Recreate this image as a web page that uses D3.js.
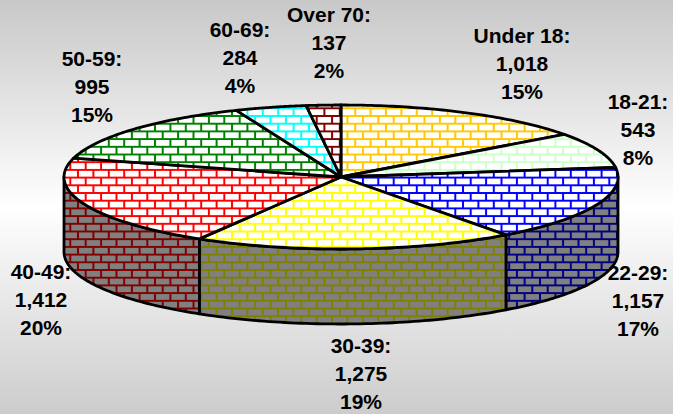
<!DOCTYPE html>
<html>
<head>
<meta charset="utf-8">
<script src="https://cdn.jsdelivr.net/npm/d3@7"></script>
<style>
html, body { margin: 0; padding: 0; background: #fff; }
text { font-family: "Liberation Sans", Arial, sans-serif; font-weight: bold; font-size: 21px; fill: #000; }
</style>
</head>
<body>
<div id="chart"></div>
<script>
let categories = ["Under 18", "18-21", "22-29", "30-39", "40-49", "50-59", "60-69", "Over 70"];
let values = [1018, 543, 1157, 1275, 1412, 995, 284, 137];
let valueLabels = ["1,018", "543", "1,157", "1,275", "1,412", "995", "284", "137"];
let percentLabels = ["15%", "8%", "17%", "19%", "20%", "15%", "4%", "2%"];
let topColors = ["#ffc800", "#ccffcc", "#0000ff", "#ffff00", "#ff0000", "#008000", "#00ffff", "#800000"];
let sideColors = ["#806400", "#668066", "#000080", "#808000", "#800000", "#004000", "#008080", "#400000"];
// label anchor x, first line baseline y
let labelPos = [[522, 43], [638, 109], [638, 280], [361, 353], [41, 279], [92, 66], [240, 37], [329, 22]];

const width = 673, height = 414;
const cx = 341, cy = 177, rx = 277, ry = 72, depth = 75;

let svg = d3.select("#chart").append("svg").attr("width", width).attr("height", height);
let defs = svg.append("defs");

// Background
let bg = defs.append("linearGradient").attr("id", "bg").attr("x1", 0).attr("x2", 0).attr("y1", 0).attr("y2", 1);
bg.append("stop").attr("offset", "0%").attr("stop-color", "#c8c8c8");
bg.append("stop").attr("offset", "50%").attr("stop-color", "#ffffff");
bg.append("stop").attr("offset", "100%").attr("stop-color", "#cccccc");
svg.append("rect").attr("width", width).attr("height", height).attr("fill", "url(#bg)");

// Brick pattern
function brick(id, color, back) {
    let s = 15.4;
    let p = defs.append("pattern").attr("id", id).attr("patternUnits", "userSpaceOnUse")
        .attr("x", 343.65).attr("y", 112.15).attr("width", s).attr("height", s);
    p.append("rect").attr("width", s).attr("height", s).attr("fill", back);
    p.append("path")
        .attr("d", `M0,${s/4}H${s}M0,${3*s/4}H${s}M${s/4},${s/4}V${3*s/4}M${3*s/4},${3*s/4}V${s}M${3*s/4},0V${s/4}`)
        .attr("fill", "none").attr("stroke", color).attr("stroke-width", 2);
}
topColors.forEach((c, i) => brick("top" + i, c, "#fff"));
sideColors.forEach((c, i) => brick("side" + i, c, "#808080"));

let pie = d3.pie().sort(null).startAngle(0).endAngle(2 * Math.PI);
let arcs = pie(values);

let px = a => cx + rx * Math.sin(a);
let py = a => cy - ry * Math.cos(a);

// elliptical outer edge, sampled so it follows the pie angles
function rimPoints(a0, a1, dy) {
    let pts = [], n = 60;
    for (let k = 0; k <= n; k++) {
        let a = a0 + (a1 - a0) * k / n;
        pts.push([px(a), py(a) + dy]);
    }
    return pts;
}
let line = d3.line();

// Sides: only the front half (90 to 270 degrees) is visible
let g = svg.append("g").attr("stroke", "#000").attr("stroke-width", 2.8).attr("stroke-linejoin", "round");
arcs.forEach((d, i) => {
    let a0 = Math.max(d.startAngle, Math.PI / 2), a1 = Math.min(d.endAngle, 3 * Math.PI / 2);
    if (a1 <= a0) return;
    let pts = rimPoints(a0, a1, 0).concat(rimPoints(a1, a0, depth));
    g.append("path").attr("d", line(pts) + "Z").attr("fill", `url(#side${i})`);
});

// Top slices
arcs.forEach((d, i) => {
    let pts = [[cx, cy]].concat(rimPoints(d.startAngle, d.endAngle, 0));
    g.append("path").attr("d", line(pts) + "Z").attr("fill", `url(#top${i})`);
});

// Labels
categories.forEach((c, i) => {
    let t = svg.append("text").attr("text-anchor", "middle");
    [c + ":", valueLabels[i], percentLabels[i]].forEach((s, k) => {
        t.append("tspan").attr("x", labelPos[i][0]).attr("y", labelPos[i][1] + k * 28).text(s);
    });
});
</script>
</body>
</html>
